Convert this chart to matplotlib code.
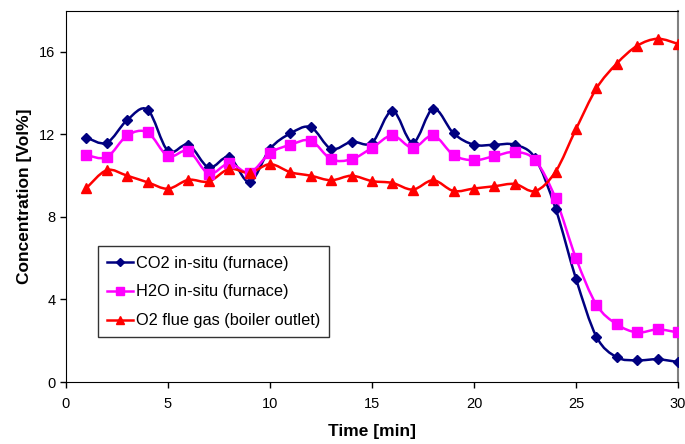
import numpy as np
import matplotlib
matplotlib.use("Agg")
import matplotlib.pyplot as plt
from matplotlib.path import Path
from matplotlib.patches import PathPatch
from matplotlib.lines import Line2D

plt.rcParams['font.family'] = ['Liberation Sans', 'DejaVu Sans']

# ---------------- data ----------------
time_min = list(range(1, 31))
co2 = [11.85, 11.6, 12.7, 13.2, 11.2, 11.5, 10.4, 10.9, 9.7, 11.3,
       12.05, 12.35, 11.3, 11.65, 11.6, 13.15, 11.6, 13.25, 12.05, 11.5,
       11.5, 11.5, 10.85, 8.4, 5.0, 2.2, 1.2, 1.05, 1.1, 0.97]
h2o = [11.0, 10.9, 11.95, 12.1, 10.95, 11.2, 10.1, 10.6, 10.15, 11.1,
       11.5, 11.7, 10.8, 10.8, 11.35, 11.95, 11.35, 11.95, 11.0, 10.75,
       10.95, 11.15, 10.75, 8.9, 6.0, 3.75, 2.8, 2.4, 2.55, 2.4]
o2 = [9.4, 10.27, 10.0, 9.68, 9.37, 9.8, 9.72, 10.33, 10.14, 10.56,
      10.17, 10.0, 9.78, 10.0, 9.74, 9.65, 9.33, 9.78, 9.26, 9.38,
      9.49, 9.6, 9.26, 10.2, 12.26, 14.23, 15.44, 16.3, 16.64, 16.39]
labels = ["CO2 in-situ (furnace)", "H2O in-situ (furnace)", "O2 flue gas (boiler outlet)"]
colors = ["#000080", "#FF00FF", "#FF0000"]
markers = ["D", "s", "^"]
msizes = [5, 7, 7]


def smooth_path(x, y, t=1/6):
    # Excel-style smoothed line as cubic Bezier segments through the data
    x = np.asarray(x, float)
    y = np.asarray(y, float)
    verts = [(x[0], y[0])]
    codes = [Path.MOVETO]
    n = len(x)
    for i in range(n - 1):
        x0, y0 = (x[i - 1], y[i - 1]) if i > 0 else (x[i], y[i])
        x3, y3 = (x[i + 2], y[i + 2]) if i + 2 < n else (x[i + 1], y[i + 1])
        c1 = (x[i] + (x[i + 1] - x0) * t, y[i] + (y[i + 1] - y0) * t)
        c2 = (x[i + 1] - (x3 - x[i]) * t, y[i + 1] - (y3 - y[i]) * t)
        verts += [c1, c2, (x[i + 1], y[i + 1])]
        codes += [Path.CURVE4] * 3
    return Path(verts, codes)


fig = plt.figure(figsize=(6.85, 4.44), dpi=100)
ax = fig.add_axes([66 / 685, 62 / 444, 612 / 685, 371.3 / 444])

handles = []
for ys, lab, c, m, ms in zip([co2, h2o, o2], labels, colors, markers, msizes):
    ax.add_patch(PathPatch(smooth_path(time_min, ys), facecolor="none",
                           edgecolor=c, lw=1.8, zorder=2))
    ax.plot(time_min, ys, ls="none", marker=m, ms=ms, color=c, zorder=3)
    handles.append(Line2D([], [], color=c, lw=1.8, marker=m, ms=ms - 1))

ax.set_xlim(0, 30)
ax.set_ylim(0, 18)
ax.set_xticks(range(0, 31, 5))
ax.set_yticks(range(0, 17, 4))
ax.tick_params(direction="out", length=4, width=1, labelsize=10.5, colors="black")
ax.tick_params(axis="x", pad=7)
ax.spines["right"].set_color("#808080")
ax.spines["right"].set_linewidth(1.5)

ax.set_xlabel("Time [min]", fontsize=12.5, fontweight="bold", labelpad=9)
ax.set_ylabel("Concentration [Vol%]", fontsize=12.5, fontweight="bold", labelpad=5)

leg = ax.legend(handles, labels, loc="upper left", bbox_to_anchor=(32 / 612, 135.5 / 371.3),
                fontsize=11.8, frameon=True, fancybox=False, edgecolor="black",
                handlelength=1.6, handletextpad=0.15, borderpad=0.55, labelspacing=0.85,
                borderaxespad=0)
leg.get_frame().set_linewidth(1.0)

fig.savefig("out.png", dpi=100)
